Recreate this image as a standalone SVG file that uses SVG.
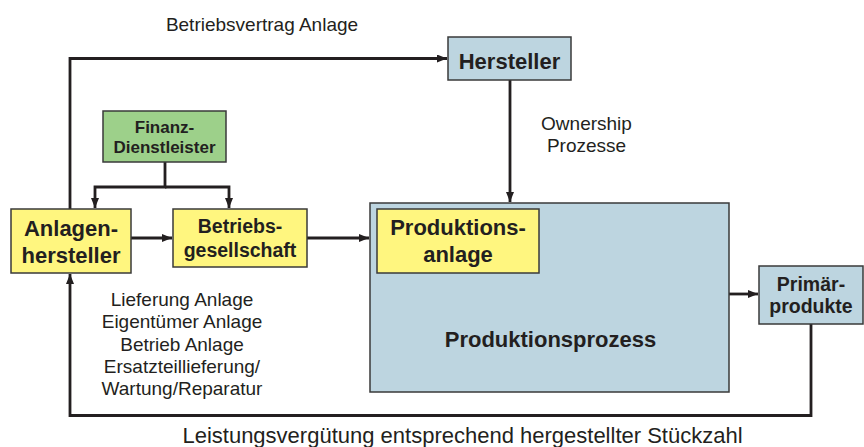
<svg xmlns="http://www.w3.org/2000/svg" width="864" height="447" viewBox="0 0 864 447">
  <style>
    .box { stroke: #3a3a3a; stroke-width: 1.5; }
    .yellow { fill: #fff67f; }
    .blue { fill: #bdd5e0; }
    .green { fill: #9dd08a; }
    .lbl { font-family: "Liberation Sans", Arial, sans-serif; font-weight: bold; fill: #231f20; text-anchor: middle; }
    .note { font-family: "Liberation Sans", Arial, sans-serif; font-size: 19px; fill: #231f20; text-anchor: middle; }
    .note.big { font-size: 22px; }
    .conn { fill: none; stroke: #231f20; stroke-width: 2.8; stroke-linejoin: miter; }
  </style>
  <defs>
    <marker id="arrow" markerUnits="userSpaceOnUse" markerWidth="11" markerHeight="9" refX="10" refY="4" orient="auto">
      <path d="M0,0 L10,4 L0,8 z" fill="#231f20"/>
    </marker>
  </defs>

  <rect width="864" height="447" fill="#ffffff"/>

  <!-- connectors -->
  <g id="connectors">
    <path class="conn" d="M70,209 V58.5 H447" marker-end="url(#arrow)"/>
    <path class="conn" d="M510,80 V202" marker-end="url(#arrow)"/>
    <path class="conn" d="M165,162 V187 H95 V208" marker-end="url(#arrow)"/>
    <path class="conn" d="M165,187 H229 V208" marker-end="url(#arrow)"/>
    <path class="conn" d="M131,238 H172" marker-end="url(#arrow)"/>
    <path class="conn" d="M307,238 H369" marker-end="url(#arrow)"/>
    <path class="conn" d="M729,294 H758" marker-end="url(#arrow)"/>
    <path class="conn" d="M811,324 V415.5 H70 V274" marker-end="url(#arrow)"/>
  </g>

  <!-- connector labels -->
  <g id="labels">
    <text class="note" x="262" y="31">Betriebsvertrag Anlage</text>
    <text class="note" x="586.5" y="129.5">Ownership</text>
    <text class="note" x="586.5" y="152">Prozesse</text>
    <text class="note" x="182" y="306">Lieferung Anlage</text>
    <text class="note" x="182" y="328.3">Eigentümer Anlage</text>
    <text class="note" x="182" y="350.6">Betrieb Anlage</text>
    <text class="note" x="182" y="372.9">Ersatzteillieferung/</text>
    <text class="note" x="182" y="395.2">Wartung/Reparatur</text>
    <text class="note big" x="462.5" y="443">Leistungsvergütung entsprechend hergestellter Stückzahl</text>
  </g>

  <g id="hersteller">
    <rect class="box blue" x="448" y="37" width="123" height="43"/>
    <text class="lbl" x="509.5" y="69" font-size="22">Hersteller</text>
  </g>

  <g id="finanz-dienstleister">
    <rect class="box green" x="103" y="111" width="123" height="51"/>
    <text class="lbl" x="164.5" y="133.3" font-size="17">Finanz-</text>
    <text class="lbl" x="164.5" y="153.3" font-size="17">Dienstleister</text>
  </g>

  <g id="anlagenhersteller">
    <rect class="box yellow" x="11" y="209" width="120" height="64"/>
    <text class="lbl" x="71" y="236" font-size="22">Anlagen-</text>
    <text class="lbl" x="71" y="263" font-size="22">hersteller</text>
  </g>

  <g id="betriebsgesellschaft">
    <rect class="box yellow" x="173" y="209" width="134" height="58"/>
    <text class="lbl" x="240" y="233.3" font-size="19.5">Betriebs-</text>
    <text class="lbl" x="240" y="256.7" font-size="19.5">gesellschaft</text>
  </g>

  <g id="produktionsprozess">
    <rect class="box blue" x="370" y="203" width="359" height="189"/>
    <text class="lbl" x="550.5" y="347.3" font-size="22">Produktionsprozess</text>
  </g>

  <g id="produktionsanlage">
    <rect class="box yellow" x="377" y="209" width="162" height="64"/>
    <text class="lbl" x="458" y="235.3" font-size="22">Produktions-</text>
    <text class="lbl" x="458" y="261.7" font-size="22">anlage</text>
  </g>

  <g id="primaerprodukte">
    <rect class="box blue" x="759" y="266" width="104" height="58"/>
    <text class="lbl" x="811" y="291" font-size="19.5">Primär-</text>
    <text class="lbl" x="811" y="313.3" font-size="19.5">produkte</text>
  </g>
</svg>
